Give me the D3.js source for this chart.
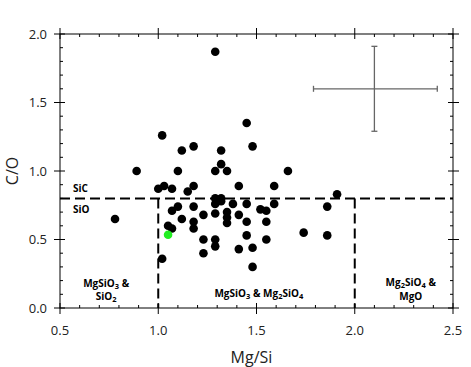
<!DOCTYPE html>
<html>
<head>
<meta charset="utf-8">
<script src="https://cdn.jsdelivr.net/npm/d3@7"></script>
<style>
  body { margin: 0; background: #fff; }
  text { font-family: "Open Sans", "DejaVu Sans", sans-serif; }
</style>
</head>
<body>
<div id="chart"></div>
<script>
// Mg/Si vs C/O values
const mgSi = [1.29, 1.45, 1.02, 1.12, 1.18, 1.32, 1.48, 1.32,
  0.89, 1.10, 1.29, 1.35, 1.66,
  1.00, 1.03, 1.07, 1.15, 1.18, 1.41, 1.59, 1.91,
  1.29, 1.32, 1.29, 1.32, 1.38, 1.45, 1.59,
  1.52, 1.55, 1.86,
  0.78, 1.10, 1.07, 1.18, 1.12, 1.18, 1.18,
  1.23, 1.29, 1.35, 1.35, 1.35, 1.41, 1.45, 1.55,
  1.05, 1.07, 1.02,
  1.23, 1.29, 1.55, 1.29, 1.23, 1.41, 1.48, 1.48,
  1.45, 1.74, 1.86];
const cO = [1.87, 1.35, 1.26, 1.15, 1.18, 1.15, 1.18, 1.05,
  1.00, 1.00, 1.00, 1.00, 1.00,
  0.87, 0.89, 0.87, 0.85, 0.89, 0.89, 0.89, 0.83,
  0.80, 0.80, 0.76, 0.78, 0.76, 0.76, 0.76,
  0.72, 0.71, 0.74,
  0.65, 0.74, 0.71, 0.74, 0.65, 0.63, 0.58,
  0.68, 0.69, 0.70, 0.66, 0.62, 0.68, 0.63, 0.63,
  0.60, 0.58, 0.36,
  0.50, 0.50, 0.50, 0.45, 0.40, 0.43, 0.44, 0.30,
  0.53, 0.55, 0.53];
// highlighted point (green)
const greenMgSi = [1.05];
const greenCO = [0.535];
// representative error bar
const errCenter = [2.1, 1.6];
const errX = [1.79, 2.42];
const errY = [1.29, 1.91];
// boundaries
const coBoundary = 0.8;
const mgBoundaries = [1.0, 2.0];
const xTicks = [0.5, 1.0, 1.5, 2.0, 2.5];
const yTicks = [0.0, 0.5, 1.0, 1.5, 2.0];

const W = 471, H = 367;
const margin = { top: 34, right: 18, bottom: 59, left: 60 };
const width = W - margin.left - margin.right;
const height = H - margin.top - margin.bottom;

const svg = d3.select('#chart').append('svg')
  .attr('width', W).attr('height', H);
const g = svg.append('g')
  .attr('transform', `translate(${margin.left},${margin.top})`);

const x = d3.scaleLinear().domain([0.5, 2.5]).range([0, width]);
const y = d3.scaleLinear().domain([0, 2]).range([height, 0]);

const minorX = d3.range(0.5, 2.5001, 0.1).filter(v => Math.abs(v * 2 - Math.round(v * 2)) > 1e-6);
const minorY = d3.range(0, 2.0001, 0.1).filter(v => Math.abs(v * 2 - Math.round(v * 2)) > 1e-6);

// frame
g.append('rect').attr('width', width).attr('height', height)
  .attr('fill', 'none').attr('stroke', '#000').attr('stroke-width', 1);

// ticks: major cross the frame, minor inside
const tickG = g.append('g').attr('stroke', '#000').attr('stroke-width', 1);
xTicks.forEach(v => {
  tickG.append('line').attr('x1', x(v)).attr('x2', x(v)).attr('y1', height - 5).attr('y2', height + 6);
  tickG.append('line').attr('x1', x(v)).attr('x2', x(v)).attr('y1', -6).attr('y2', 5);
});
minorX.forEach(v => {
  tickG.append('line').attr('x1', x(v)).attr('x2', x(v)).attr('y1', height - 3).attr('y2', height);
  tickG.append('line').attr('x1', x(v)).attr('x2', x(v)).attr('y1', 0).attr('y2', 3);
});
yTicks.forEach(v => {
  tickG.append('line').attr('y1', y(v)).attr('y2', y(v)).attr('x1', -6).attr('x2', 5);
  tickG.append('line').attr('y1', y(v)).attr('y2', y(v)).attr('x1', width - 5).attr('x2', width + 6);
});
minorY.forEach(v => {
  tickG.append('line').attr('y1', y(v)).attr('y2', y(v)).attr('x1', 0).attr('x2', 3);
  tickG.append('line').attr('y1', y(v)).attr('y2', y(v)).attr('x1', width - 3).attr('x2', width);
});

// tick labels
g.selectAll('.xl').data(xTicks).enter().append('text')
  .attr('x', d => x(d)).attr('y', height + 27)
  .attr('text-anchor', 'middle').attr('font-size', 13).attr('fill', '#222')
  .text(d => d.toFixed(1));
g.selectAll('.yl').data(yTicks).enter().append('text')
  .attr('x', -13).attr('y', d => y(d)).attr('dy', '0.35em')
  .attr('text-anchor', 'end').attr('font-size', 13).attr('fill', '#222')
  .text(d => d.toFixed(1));

// axis titles
g.append('text').attr('x', x(1.5) - 5).attr('y', height + 55)
  .attr('text-anchor', 'middle').attr('font-size', 16).attr('fill', '#222').text('Mg/Si');
g.append('text').attr('transform', `translate(${-42},${y(1.0)}) rotate(-90)`)
  .attr('text-anchor', 'middle').attr('font-size', 16).attr('fill', '#222').text('C/O');

// dashed boundaries
const dash = g.append('g').attr('stroke', '#000').attr('stroke-width', 2)
  .attr('stroke-dasharray', '10,5').attr('fill', 'none');
dash.append('line').attr('x1', x(0.5)).attr('x2', x(2.5))
  .attr('y1', y(coBoundary)).attr('y2', y(coBoundary));
mgBoundaries.forEach(v => {
  dash.append('line').attr('x1', x(v)).attr('x2', x(v))
    .attr('y1', y(coBoundary)).attr('y2', y(0));
});

// region labels, strings with "_n" marking a subscript digit
const lab = (px, py, str, anchor) => {
  const t = g.append('text').attr('x', px).attr('y', py)
    .attr('text-anchor', anchor || 'middle').attr('font-size', 10)
    .attr('font-weight', 'bold').attr('fill', '#000');
  const parts = str.split(/(_\d)/).filter(s => s.length);
  let off = 0;
  parts.forEach(p => {
    const sub = p[0] === '_';
    const want = sub ? 2 : 0;
    t.append('tspan').attr('dy', want - off)
      .attr('font-size', sub ? 7.5 : null)
      .text(sub ? p.slice(1) : p);
    off = want;
  });
  return t;
};
lab(x(0.566), y(coBoundary) - 6, 'SiC', 'start');
lab(x(0.566), y(coBoundary) + 14.5, 'SiO', 'start');
lab(x(0.735), y(0.155), 'MgSiO_3 &');
lab(x(0.735), y(0.06), 'SiO_2');
lab(x(1.512), y(0.08), 'MgSiO_3 & Mg_2SiO_4');
lab(x(2.285), y(0.16), 'Mg_2SiO_4 &');
lab(x(2.285), y(0.055), 'MgO');

// error bar
const eb = g.append('g').attr('stroke', '#666').attr('stroke-width', 1.3);
eb.append('line').attr('x1', x(errX[0])).attr('x2', x(errX[1]))
  .attr('y1', y(errCenter[1])).attr('y2', y(errCenter[1]));
eb.append('line').attr('y1', y(errY[0])).attr('y2', y(errY[1]))
  .attr('x1', x(errCenter[0])).attr('x2', x(errCenter[0]));
errX.forEach(v => eb.append('line').attr('x1', x(v)).attr('x2', x(v))
  .attr('y1', y(errCenter[1]) - 3).attr('y2', y(errCenter[1]) + 3));
errY.forEach(v => eb.append('line').attr('y1', y(v)).attr('y2', y(v))
  .attr('x1', x(errCenter[0]) - 3).attr('x2', x(errCenter[0]) + 3));

// points
g.selectAll('.pt').data(d3.zip(mgSi, cO)).enter().append('circle')
  .attr('cx', d => x(d[0])).attr('cy', d => y(d[1])).attr('r', 4.3).attr('fill', '#000');
g.selectAll('.gp').data(d3.zip(greenMgSi, greenCO)).enter().append('circle')
  .attr('cx', d => x(d[0])).attr('cy', d => y(d[1])).attr('r', 4.3).attr('fill', '#22ee22');
</script>
</body>
</html>
